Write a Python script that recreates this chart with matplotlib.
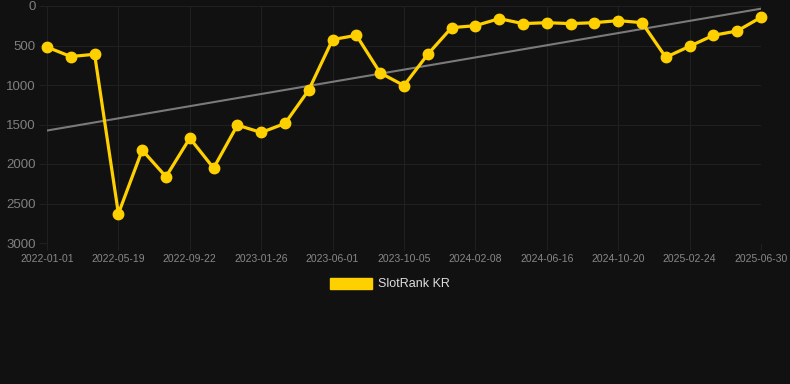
import numpy as np
import matplotlib
matplotlib.use("Agg")
import matplotlib.pyplot as plt
from matplotlib.patches import Patch

# --- DATA ---
ranks = [520, 640, 611, 2629, 1824, 2161, 1673, 2052, 1508, 1601,
         1487, 1062, 425, 371, 847, 1007, 611, 274, 249, 160,
         223, 211, 223, 211, 185, 211, 649, 510, 371, 316, 143]
tick_labels = ["2022-01-01", "2022-05-19", "2022-09-22", "2023-01-26", "2023-06-01",
               "2023-10-05", "2024-02-08", "2024-06-16", "2024-10-20", "2025-02-24",
               "2025-06-30"]
y_ticks = [0, 500, 1000, 1500, 2000, 2500, 3000]

BG = "#111111"
GOLD = "#FFD000"

plt.rcParams['font.family'] = ['Liberation Sans', 'DejaVu Sans']

x = np.arange(len(ranks))
# linear trend through the ranks
coef = np.polyfit(x, ranks, 1)
trend = np.polyval(coef, x)

fig = plt.figure(figsize=(7.9, 3.84), dpi=100, facecolor=BG)
ax = fig.add_axes([47/790, 1 - 243/384, (761 - 47)/790, (243 - 6)/384])
ax.set_facecolor(BG)

ax.plot(x, trend, color="#7a7a7a", lw=1.5, zorder=2)
ax.plot(x, ranks, color=GOLD, lw=2.3, marker="o", ms=7.5, zorder=3, clip_on=False)

ax.set_xlim(0, len(ranks) - 1)
ax.set_ylim(3000, 0)
ax.set_yticks(y_ticks)
ax.set_yticklabels([str(v) for v in y_ticks])
ax.set_xticks(x[::3])
ax.set_xticklabels(tick_labels)

ax.grid(True, color="#202020", lw=0.8)
ax.set_axisbelow(True)
for s in ax.spines.values():
    s.set_visible(False)
ax.tick_params(axis="y", colors="#808080", labelsize=9.5, length=6, color="#202020", pad=2)
ax.tick_params(axis="x", colors="#888888", labelsize=7.5, length=5, color="#202020", pad=3)
ax.tick_params(axis="y", labelcolor="#808080")

handle = Patch(facecolor=GOLD, edgecolor=GOLD)
leg = fig.legend([handle], ["SlotRank KR"], loc="center", bbox_to_anchor=(390/790, 1 - 284/384),
                 frameon=False, fontsize=9, handlelength=3.3, handleheight=1.0,
                 handletextpad=0.5, labelcolor="#dddddd")

fig.savefig("out.png", dpi=100, facecolor=BG)
